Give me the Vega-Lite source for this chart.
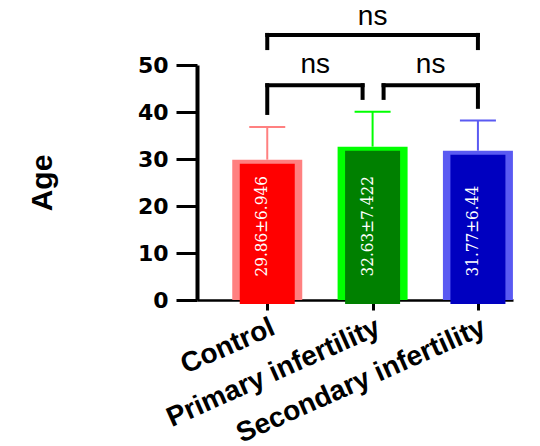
{
  "$schema": "https://vega.github.io/schema/vega-lite/v6.json",
  "width": 316,
  "height": 235,
  "autosize": {"type": "none"},
  "padding": {"left": 197, "top": 65, "right": 27, "bottom": 146},
  "background": "white",
  "config": {"view": {"stroke": null}},
  "datasets": {
    "groups": [
      {"group": "Control", "mean": 29.86, "upper": 36.81, "label": "29.86±6.946"},
      {"group": "Primary infertility", "mean": 32.63, "upper": 40.05, "label": "32.63±7.422"},
      {"group": "Secondary infertility", "mean": 31.77, "upper": 38.21, "label": "31.77±6.44"}
    ],
    "brackets": [
      {"pair": "CP", "a": "Control", "b": "Primary infertility", "top": 45.7, "aEnd": 39.8, "bEnd": 43.0, "nsY": 48.3, "sig": "ns"},
      {"pair": "PS", "a": "Primary infertility", "b": "Secondary infertility", "top": 45.7, "aEnd": 43.0, "bEnd": 41.1, "nsY": 48.3, "sig": "ns"},
      {"pair": "CS", "a": "Control", "b": "Secondary infertility", "top": 56.4, "aEnd": 53.6, "bEnd": 53.6, "nsY": 58.5, "sig": "ns"}
    ]
  },
  "layer": [
    {
      "data": {"name": "groups"},
      "mark": {"type": "bar", "width": 70},
      "encoding": {
        "x": {
          "field": "group", "type": "nominal", "sort": null,
          "scale": {"type": "point", "padding": 0.5, "align": 0.667, "domain": ["Control", "Primary infertility", "Secondary infertility"]},
          "axis": {
            "title": null, "domainColor": "black", "domainWidth": 2.5,
            "tickColor": "black", "tickSize": 10, "tickWidth": 3,
            "labelAngle": -24, "labelAlign": "right", "labelBaseline": "top",
            "labelFont": "Liberation Sans", "labelFontWeight": "bold", "labelFontSize": 28,
            "labelColor": "black", "labelPadding": 3, "labelLimit": 500
          }
        },
        "y": {
          "field": "mean", "type": "quantitative",
          "scale": {"domain": [0, 50], "nice": false},
          "axis": {
            "title": "Age", "values": [0, 10, 20, 30, 40, 50], "grid": false,
            "domainColor": "black", "domainWidth": 4,
            "tickColor": "black", "tickSize": 21, "tickWidth": 3,
            "labelFont": "DejaVu Sans", "labelFontWeight": "bold", "labelFontSize": 22,
            "labelColor": "black", "labelPadding": 8,
            "titleFont": "Liberation Sans", "titleFontWeight": "bold", "titleFontSize": 30,
            "titleColor": "black", "titlePadding": 80
          }
        },
        "color": {
          "field": "group", "type": "nominal", "legend": null,
          "scale": {"domain": ["Control", "Primary infertility", "Secondary infertility"], "range": ["#ff8080", "#00ff00", "#5a5af2"]}
        }
      }
    },
    {
      "data": {"name": "groups"},
      "mark": {"type": "bar", "width": 55, "yOffset": 4},
      "encoding": {
        "x": {"field": "group", "type": "nominal", "sort": null},
        "y": {"field": "mean", "type": "quantitative"},
        "fill": {
          "field": "group", "type": "nominal", "legend": null,
          "scale": {"domain": ["Control", "Primary infertility", "Secondary infertility"], "range": ["#ff0000", "#008000", "#0000c0"]}
        }
      }
    },
    {
      "data": {"name": "groups"},
      "mark": {"type": "rule", "strokeWidth": 2},
      "encoding": {
        "x": {"field": "group", "type": "nominal", "sort": null},
        "y": {"field": "mean", "type": "quantitative"},
        "y2": {"field": "upper"},
        "color": {"field": "group", "type": "nominal", "legend": null}
      }
    },
    {
      "data": {"name": "groups"},
      "mark": {"type": "tick", "size": 36, "thickness": 2, "opacity": 1},
      "encoding": {
        "x": {"field": "group", "type": "nominal", "sort": null},
        "y": {"field": "upper", "type": "quantitative"},
        "color": {"field": "group", "type": "nominal", "legend": null}
      }
    },
    {
      "data": {"name": "groups"},
      "mark": {"type": "text", "angle": 270, "align": "left", "baseline": "alphabetic", "font": "DejaVu Serif Condensed, Liberation Serif, serif", "fontSize": 17, "color": "white"},
      "encoding": {
        "x": {"field": "group", "type": "nominal", "sort": null},
        "y": {"datum": 5, "type": "quantitative"},
        "text": {"field": "label"}
      }
    },
    {
      "data": {"name": "brackets"},
      "transform": [{"filter": "datum.pair === 'CS'"}],
      "mark": {"type": "rule", "strokeWidth": 4, "strokeCap": "square", "color": "black"},
      "encoding": {
        "x": {"field": "a", "type": "nominal"},
        "x2": {"field": "b"},
        "y": {"field": "top", "type": "quantitative"}
      }
    },
    {
      "data": {"name": "brackets"},
      "transform": [{"filter": "datum.pair === 'CP'"}],
      "mark": {"type": "rule", "strokeWidth": 4, "strokeCap": "square", "color": "black", "x2Offset": -10},
      "encoding": {
        "x": {"field": "a", "type": "nominal"},
        "x2": {"field": "b"},
        "y": {"field": "top", "type": "quantitative"}
      }
    },
    {
      "data": {"name": "brackets"},
      "transform": [{"filter": "datum.pair === 'PS'"}],
      "mark": {"type": "rule", "strokeWidth": 4, "strokeCap": "square", "color": "black", "xOffset": 11},
      "encoding": {
        "x": {"field": "a", "type": "nominal"},
        "x2": {"field": "b"},
        "y": {"field": "top", "type": "quantitative"}
      }
    },
    {
      "data": {"name": "brackets"},
      "transform": [{"filter": "datum.pair !== 'PS'"}],
      "mark": {"type": "rule", "strokeWidth": 4, "strokeCap": "square", "color": "black"},
      "encoding": {
        "x": {"field": "a", "type": "nominal"},
        "y": {"field": "aEnd", "type": "quantitative"},
        "y2": {"field": "top"}
      }
    },
    {
      "data": {"name": "brackets"},
      "transform": [{"filter": "datum.pair === 'PS'"}],
      "mark": {"type": "rule", "strokeWidth": 4, "strokeCap": "square", "color": "black", "xOffset": 11},
      "encoding": {
        "x": {"field": "a", "type": "nominal"},
        "y": {"field": "aEnd", "type": "quantitative"},
        "y2": {"field": "top"}
      }
    },
    {
      "data": {"name": "brackets"},
      "transform": [{"filter": "datum.pair !== 'CP'"}],
      "mark": {"type": "rule", "strokeWidth": 4, "strokeCap": "square", "color": "black"},
      "encoding": {
        "x": {"field": "b", "type": "nominal"},
        "y": {"field": "bEnd", "type": "quantitative"},
        "y2": {"field": "top"}
      }
    },
    {
      "data": {"name": "brackets"},
      "transform": [{"filter": "datum.pair === 'CP'"}],
      "mark": {"type": "rule", "strokeWidth": 4, "strokeCap": "square", "color": "black", "xOffset": -10},
      "encoding": {
        "x": {"field": "b", "type": "nominal"},
        "y": {"field": "bEnd", "type": "quantitative"},
        "y2": {"field": "top"}
      }
    },
    {
      "data": {"name": "brackets"},
      "transform": [{"filter": "datum.pair === 'CS'"}],
      "mark": {"type": "text", "font": "Liberation Sans", "fontSize": 28, "color": "black", "baseline": "alphabetic", "align": "center"},
      "encoding": {
        "x": {"datum": "Primary infertility", "type": "nominal"},
        "y": {"field": "nsY", "type": "quantitative"},
        "text": {"field": "sig"}
      }
    },
    {
      "data": {"name": "brackets"},
      "transform": [{"filter": "datum.pair === 'CP'"}],
      "mark": {"type": "text", "font": "Liberation Sans", "fontSize": 28, "color": "black", "baseline": "alphabetic", "align": "center", "xOffset": 48},
      "encoding": {
        "x": {"field": "a", "type": "nominal"},
        "y": {"field": "nsY", "type": "quantitative"},
        "text": {"field": "sig"}
      }
    },
    {
      "data": {"name": "brackets"},
      "transform": [{"filter": "datum.pair === 'PS'"}],
      "mark": {"type": "text", "font": "Liberation Sans", "fontSize": 28, "color": "black", "baseline": "alphabetic", "align": "center", "xOffset": 58},
      "encoding": {
        "x": {"field": "a", "type": "nominal"},
        "y": {"field": "nsY", "type": "quantitative"},
        "text": {"field": "sig"}
      }
    }
  ]
}
